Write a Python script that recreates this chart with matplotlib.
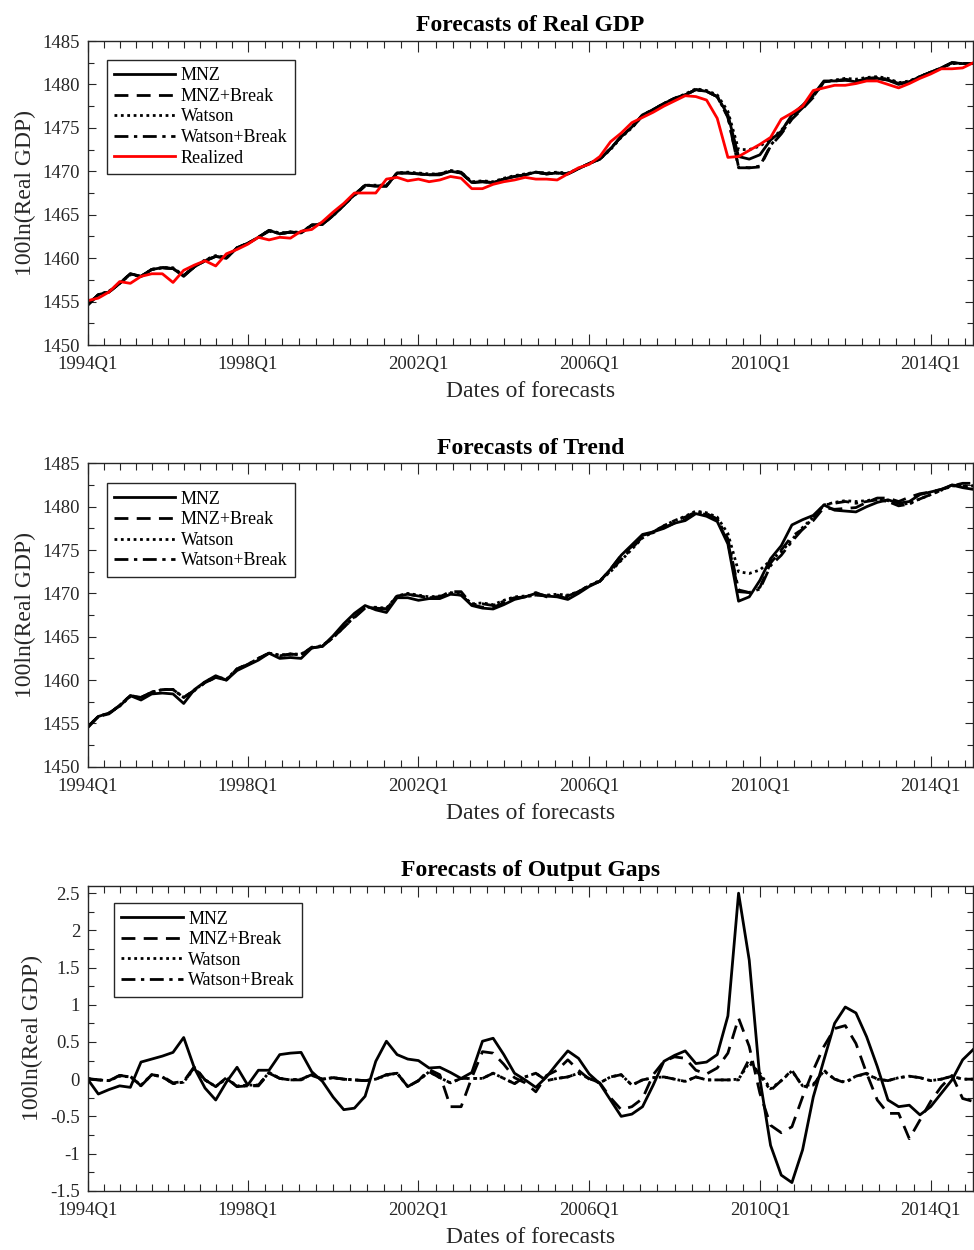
import numpy as np
import matplotlib
matplotlib.use('Agg')
import matplotlib.pyplot as plt
from matplotlib.ticker import FixedLocator, MultipleLocator, FormatStrFormatter

plt.rcParams['font.family'] = ['Liberation Serif', 'DejaVu Serif']
plt.rcParams['axes.unicode_minus'] = False

# eje x: trimestres 1..84 (1994Q1 .. 2014Q4)
xtick_labels = ['1994Q1', '1998Q1', '2002Q1', '2006Q1', '2010Q1', '2014Q1']
series_names = ['MNZ', 'MNZ+Break', 'Watson', 'Watson+Break']

# ---- painel 1: previsoes do PIB real ----
realized = [
    1455.1, 1455.4, 1456.1, 1457.3, 1457.1, 1457.9, 1458.2, 1458.2, 1457.2, 1458.6, 1459.2, 1459.7,
    1459.1, 1460.5, 1461.0, 1461.6, 1462.4, 1462.1, 1462.4, 1462.3, 1463.1, 1463.3, 1464.2, 1465.3,
    1466.3, 1467.5, 1467.5, 1467.5, 1469.1, 1469.3, 1468.9, 1469.1, 1468.8, 1469.0, 1469.4, 1469.2,
    1468.0, 1468.0, 1468.5, 1468.8, 1469.0, 1469.3, 1469.1, 1469.1, 1469.0, 1469.7, 1470.4, 1470.8,
    1471.7, 1473.4, 1474.4, 1475.6, 1476.2, 1476.8, 1477.5, 1478.1, 1478.7, 1478.6, 1478.2, 1476.1,
    1471.6, 1471.7, 1472.4, 1473.1, 1473.9, 1476.0, 1476.7, 1477.5, 1479.3, 1479.6, 1479.9, 1479.9,
    1480.1, 1480.4, 1480.4, 1480.0, 1479.6, 1480.1, 1480.7, 1481.2, 1481.8, 1481.8, 1481.9, 1482.5]

gdp_mnz = [
    1454.6, 1455.8, 1456.1, 1457.1, 1458.2, 1457.9, 1458.7, 1458.9, 1458.8, 1457.9, 1459.0, 1459.7,
    1460.2, 1460.0, 1461.2, 1461.7, 1462.4, 1463.2, 1462.8, 1463.0, 1462.9, 1463.8, 1463.9, 1464.9,
    1466.1, 1467.3, 1468.4, 1468.3, 1468.3, 1469.8, 1469.8, 1469.7, 1469.6, 1469.6, 1470.0, 1469.8,
    1468.7, 1468.8, 1468.7, 1469.1, 1469.4, 1469.6, 1469.9, 1469.7, 1469.8, 1469.7, 1470.3, 1470.9,
    1471.4, 1472.6, 1474.0, 1475.1, 1476.5, 1477.1, 1477.8, 1478.4, 1478.8, 1479.4, 1479.2, 1478.6,
    1476.5, 1471.7, 1471.4, 1471.9, 1473.6, 1474.6, 1476.5, 1477.6, 1478.8, 1480.4, 1480.4, 1480.5,
    1480.3, 1480.6, 1480.7, 1480.5, 1480.0, 1480.3, 1480.9, 1481.4, 1481.9, 1482.5, 1482.4, 1482.4]

gdp_mnz_break = [
    1454.6, 1455.8, 1456.1, 1457.1, 1458.2, 1457.9, 1458.7, 1458.9, 1458.8, 1458.0, 1459.0, 1459.7,
    1460.2, 1460.0, 1461.2, 1461.7, 1462.4, 1463.1, 1462.8, 1463.0, 1462.9, 1463.8, 1463.9, 1464.9,
    1466.1, 1467.2, 1468.3, 1468.3, 1468.3, 1469.8, 1469.8, 1469.7, 1469.6, 1469.7, 1470.0, 1469.9,
    1468.7, 1468.8, 1468.7, 1469.1, 1469.4, 1469.6, 1469.9, 1469.7, 1469.8, 1469.7, 1470.3, 1470.9,
    1471.4, 1472.6, 1474.0, 1475.0, 1476.4, 1477.1, 1477.8, 1478.4, 1478.8, 1479.4, 1479.2, 1478.6,
    1476.2, 1470.5, 1470.4, 1470.5, 1472.9, 1474.3, 1476.0, 1477.2, 1478.5, 1480.3, 1480.4, 1480.5,
    1480.4, 1480.6, 1480.7, 1480.5, 1480.1, 1480.3, 1480.9, 1481.4, 1481.9, 1482.5, 1482.4, 1482.4]

gdp_watson = [
    1454.7, 1455.8, 1456.2, 1457.1, 1458.1, 1457.9, 1458.7, 1458.9, 1458.9, 1458.0, 1459.0, 1459.8,
    1460.3, 1460.1, 1461.2, 1461.7, 1462.4, 1463.2, 1462.9, 1463.0, 1463.0, 1463.8, 1464.0, 1464.9,
    1466.1, 1467.3, 1468.4, 1468.4, 1468.4, 1469.8, 1469.9, 1469.8, 1469.7, 1469.7, 1470.1, 1469.9,
    1468.8, 1468.9, 1468.8, 1469.2, 1469.5, 1469.7, 1469.9, 1469.8, 1469.9, 1469.8, 1470.3, 1470.9,
    1471.4, 1472.5, 1473.9, 1475.0, 1476.4, 1477.1, 1477.8, 1478.4, 1478.9, 1479.5, 1479.3, 1478.8,
    1476.9, 1472.5, 1472.5, 1472.9, 1473.7, 1474.7, 1476.3, 1477.5, 1478.7, 1480.3, 1480.5, 1480.7,
    1480.6, 1480.8, 1480.9, 1480.7, 1480.2, 1480.4, 1480.9, 1481.4, 1481.9, 1482.4, 1482.4, 1482.4]

gdp_watson_break = [
    1454.6, 1455.8, 1456.1, 1457.1, 1458.2, 1457.9, 1458.7, 1458.9, 1458.8, 1458.0, 1459.0, 1459.7,
    1460.2, 1460.0, 1461.2, 1461.7, 1462.4, 1463.2, 1462.8, 1463.0, 1462.9, 1463.8, 1463.9, 1464.9,
    1466.1, 1467.3, 1468.4, 1468.3, 1468.3, 1469.8, 1469.8, 1469.7, 1469.6, 1469.6, 1470.0, 1469.8,
    1468.7, 1468.8, 1468.7, 1469.1, 1469.4, 1469.6, 1469.9, 1469.7, 1469.8, 1469.7, 1470.3, 1470.9,
    1471.4, 1472.6, 1474.0, 1475.1, 1476.5, 1477.1, 1477.8, 1478.4, 1478.8, 1479.4, 1479.2, 1478.6,
    1476.3, 1470.4, 1470.4, 1470.6, 1473.0, 1474.4, 1476.1, 1477.3, 1478.6, 1480.3, 1480.4, 1480.6,
    1480.4, 1480.7, 1480.8, 1480.6, 1480.1, 1480.3, 1480.9, 1481.4, 1481.9, 1482.5, 1482.4, 1482.4]

# ---- painel 2: previsoes da tendencia ----
trend_mnz = [
    1454.5, 1455.8, 1456.2, 1457.0, 1458.2, 1457.7, 1458.4, 1458.5, 1458.4, 1457.3, 1458.9, 1459.8,
    1460.5, 1460.0, 1461.1, 1461.7, 1462.3, 1463.1, 1462.5, 1462.6, 1462.5, 1463.7, 1463.9, 1465.1,
    1466.5, 1467.7, 1468.6, 1468.1, 1467.8, 1469.5, 1469.5, 1469.2, 1469.4, 1469.4, 1469.9, 1469.8,
    1468.6, 1468.3, 1468.2, 1468.7, 1469.3, 1469.6, 1470.0, 1469.7, 1469.6, 1469.3, 1470.0, 1470.8,
    1471.4, 1472.8, 1474.4, 1475.6, 1476.8, 1477.1, 1477.5, 1478.1, 1478.4, 1479.2, 1478.9, 1478.3,
    1475.7, 1469.1, 1469.6, 1471.5, 1474.0, 1475.5, 1477.9, 1478.5, 1479.0, 1480.2, 1479.6, 1479.5,
    1479.4, 1480.0, 1480.5, 1480.8, 1480.4, 1480.6, 1481.4, 1481.7, 1482.0, 1482.5, 1482.2, 1482.0]

trend_mnz_break = [
    1454.6, 1455.8, 1456.1, 1457.1, 1458.2, 1458.0, 1458.6, 1458.9, 1458.9, 1458.0, 1458.8, 1459.7,
    1460.3, 1460.0, 1461.3, 1461.8, 1462.5, 1463.1, 1462.8, 1463.0, 1462.9, 1463.8, 1463.9, 1464.9,
    1466.1, 1467.2, 1468.3, 1468.3, 1468.2, 1469.7, 1469.9, 1469.7, 1469.5, 1469.6, 1470.2, 1470.2,
    1468.7, 1468.4, 1468.4, 1468.9, 1469.4, 1469.6, 1470.1, 1469.6, 1469.7, 1469.4, 1470.2, 1470.9,
    1471.4, 1472.8, 1474.4, 1475.4, 1476.7, 1477.0, 1477.6, 1478.1, 1478.5, 1479.3, 1479.1, 1478.5,
    1475.9, 1470.2, 1470.1, 1470.7, 1473.5, 1475.0, 1476.6, 1477.4, 1478.4, 1479.9, 1479.7, 1479.8,
    1479.9, 1480.5, 1481.0, 1481.0, 1480.6, 1481.1, 1481.5, 1481.7, 1482.0, 1482.4, 1482.7, 1482.7]

trend_watson = [
    1454.6, 1455.8, 1456.2, 1457.0, 1458.1, 1458.0, 1458.6, 1458.9, 1458.9, 1458.0, 1458.8, 1459.8,
    1460.4, 1460.1, 1461.3, 1461.8, 1462.5, 1463.1, 1462.9, 1463.0, 1463.0, 1463.7, 1464.0, 1464.9,
    1466.1, 1467.3, 1468.4, 1468.4, 1468.3, 1469.7, 1470.0, 1469.8, 1469.6, 1469.7, 1470.1, 1469.9,
    1468.8, 1468.9, 1468.7, 1469.2, 1469.6, 1469.7, 1469.8, 1469.8, 1469.9, 1469.8, 1470.2, 1470.9,
    1471.5, 1472.5, 1473.8, 1475.1, 1476.4, 1477.1, 1477.8, 1478.4, 1478.9, 1479.5, 1479.3, 1478.8,
    1476.9, 1472.5, 1472.3, 1472.7, 1473.8, 1474.8, 1476.2, 1477.6, 1478.8, 1480.2, 1480.5, 1480.7,
    1480.6, 1480.7, 1480.9, 1480.7, 1480.2, 1480.4, 1480.9, 1481.4, 1481.9, 1482.4, 1482.4, 1482.4]

trend_watson_break = [
    1454.6, 1455.8, 1456.1, 1457.1, 1458.2, 1458.0, 1458.6, 1458.9, 1458.9, 1458.0, 1458.8, 1459.7,
    1460.3, 1460.0, 1461.3, 1461.8, 1462.5, 1463.1, 1462.8, 1463.0, 1462.9, 1463.7, 1463.9, 1464.9,
    1466.1, 1467.3, 1468.4, 1468.3, 1468.2, 1469.7, 1469.9, 1469.7, 1469.5, 1469.6, 1470.0, 1469.8,
    1468.7, 1468.8, 1468.6, 1469.1, 1469.5, 1469.6, 1469.8, 1469.7, 1469.8, 1469.7, 1470.2, 1470.9,
    1471.4, 1472.6, 1473.9, 1475.2, 1476.5, 1477.1, 1477.8, 1478.4, 1478.8, 1479.4, 1479.2, 1478.6,
    1476.3, 1470.4, 1470.1, 1470.5, 1473.2, 1474.4, 1476.0, 1477.4, 1478.7, 1480.2, 1480.4, 1480.6,
    1480.4, 1480.6, 1480.8, 1480.6, 1480.1, 1480.3, 1480.9, 1481.4, 1481.9, 1482.5, 1482.4, 1482.4]

# ---- painel 3: previsoes do hiato do produto ----
gap_mnz = [
    0.00, -0.20, -0.14, -0.09, -0.11, 0.23, 0.27, 0.31, 0.36, 0.56, 0.15, -0.12,
    -0.28, -0.04, 0.16, -0.08, 0.12, 0.12, 0.33, 0.35, 0.36, 0.10, -0.03, -0.24,
    -0.41, -0.39, -0.23, 0.24, 0.51, 0.33, 0.27, 0.25, 0.15, 0.16, 0.09, 0.01,
    0.09, 0.51, 0.55, 0.33, 0.08, -0.01, -0.11, 0.03, 0.21, 0.38, 0.28, 0.07,
    -0.06, -0.28, -0.50, -0.47, -0.37, -0.08, 0.24, 0.32, 0.38, 0.21, 0.23, 0.33,
    0.85, 2.50, 1.60, 0.00, -0.89, -1.29, -1.39, -0.95, -0.24, 0.26, 0.75, 0.97,
    0.89, 0.57, 0.17, -0.28, -0.37, -0.35, -0.48, -0.37, -0.19, -0.01, 0.26, 0.40]

gap_mnz_break = [
    0.00, -0.01, -0.02, 0.05, 0.04, -0.09, 0.06, 0.04, -0.05, -0.03, 0.17, -0.01,
    -0.10, 0.02, -0.10, -0.09, -0.09, 0.08, 0.01, -0.01, -0.01, 0.05, 0.00, 0.02,
    0.00, -0.01, -0.02, 0.00, 0.06, 0.08, -0.10, -0.02, 0.13, 0.06, -0.37, -0.37,
    0.02, 0.37, 0.35, 0.20, 0.02, -0.05, -0.17, 0.05, 0.12, 0.26, 0.12, 0.00,
    -0.05, -0.25, -0.41, -0.37, -0.26, 0.06, 0.24, 0.30, 0.28, 0.12, 0.07, 0.15,
    0.35, 0.82, 0.44, -0.19, -0.62, -0.72, -0.64, -0.24, 0.12, 0.44, 0.68, 0.72,
    0.48, 0.08, -0.28, -0.46, -0.46, -0.80, -0.55, -0.30, -0.10, 0.05, -0.26, -0.30]

gap_watson = [
    0.01, -0.01, -0.02, 0.04, 0.03, -0.08, 0.06, 0.03, -0.06, -0.04, 0.15, -0.01,
    -0.10, 0.01, -0.09, -0.08, -0.08, 0.09, 0.01, -0.01, 0.00, 0.06, 0.00, 0.02,
    0.00, -0.01, -0.02, 0.00, 0.05, 0.08, -0.10, -0.02, 0.10, 0.02, -0.05, 0.01,
    0.01, 0.01, 0.08, 0.01, -0.06, 0.03, 0.08, -0.02, 0.01, 0.03, 0.08, 0.01,
    -0.05, 0.03, 0.06, -0.08, -0.01, 0.02, 0.03, 0.00, -0.03, 0.03, -0.01, -0.01,
    -0.01, 0.00, 0.22, 0.08, -0.13, -0.02, 0.11, -0.09, -0.07, 0.11, 0.00, -0.04,
    0.04, 0.07, 0.00, -0.02, 0.02, 0.04, 0.02, -0.02, 0.00, 0.04, 0.00, 0.00]

gap_watson_break = [
    0.01, -0.01, -0.02, 0.05, 0.03, -0.09, 0.06, 0.03, -0.06, -0.04, 0.16, -0.01,
    -0.10, 0.01, -0.10, -0.09, -0.08, 0.09, 0.01, -0.01, 0.00, 0.06, 0.00, 0.02,
    0.00, -0.01, -0.02, 0.00, 0.06, 0.08, -0.10, -0.02, 0.10, 0.02, -0.05, 0.01,
    0.01, 0.01, 0.08, 0.01, -0.06, 0.03, 0.08, -0.02, 0.01, 0.03, 0.08, 0.01,
    -0.05, 0.03, 0.06, -0.08, -0.01, 0.02, 0.03, 0.00, -0.03, 0.03, -0.01, -0.01,
    -0.01, -0.01, 0.27, 0.05, -0.15, -0.02, 0.12, -0.10, -0.08, 0.12, 0.00, -0.05,
    0.04, 0.08, 0.00, -0.02, 0.02, 0.04, 0.02, -0.02, 0.00, 0.04, 0.00, 0.00]

q = np.arange(1, len(realized) + 1)

# estilos das linhas
estilos = ['-', (0, (5, 3)), (0, (1, 1.3)), (0, (5, 2, 1.2, 2))]
cinza = '#262626'
lw = 2.0


def formatar(ax, titulo, ylim, ymaj, ymin, fmt, ancora):
    ax.set_xlim(1, 84)
    ax.set_ylim(*ylim)
    maj = [1, 16, 32, 48, 64, 80]
    ax.xaxis.set_major_locator(FixedLocator(maj))
    ax.set_xticklabels(xtick_labels)
    menores = []
    for a, b in zip(maj[:-1], maj[1:]):
        menores += list(np.linspace(a, b, 11)[1:-1])
    menores += [81.6, 83.2]
    ax.xaxis.set_minor_locator(FixedLocator(menores))
    ax.yaxis.set_major_locator(MultipleLocator(ymaj))
    ax.yaxis.set_minor_locator(MultipleLocator(ymin))
    ax.yaxis.set_major_formatter(FormatStrFormatter(fmt))
    ax.tick_params(which='both', direction='in', top=True, right=True,
                   color=cinza, labelcolor=cinza, labelsize=13.5, width=0.8)
    ax.tick_params(axis='x', which='major', length=8, pad=8)
    ax.tick_params(axis='x', which='minor', length=5)
    ax.tick_params(axis='y', which='major', length=6, pad=5.5)
    ax.tick_params(axis='y', which='minor', length=4)
    for s in ax.spines.values():
        s.set_color(cinza)
        s.set_linewidth(1.0)
    ax.set_title(titulo, fontsize=17, fontweight='bold', pad=7)
    ax.set_xlabel('Dates of forecasts', fontsize=17, color=cinza, labelpad=6)
    ax.set_ylabel('100ln(Real GDP)', fontsize=17, color=cinza, labelpad=5)
    leg = ax.legend(loc='upper left', bbox_to_anchor=ancora, borderaxespad=0,
                    fontsize=13, fancybox=False, framealpha=1, edgecolor=cinza,
                    borderpad=0.4, labelspacing=0.2, handlelength=3.4,
                    handletextpad=0.3)
    leg.get_frame().set_linewidth(1.0)


fig = plt.figure(figsize=(9.74, 12.5), dpi=100)

ax1 = fig.add_axes([0.0900, 0.7240, 0.9093, 0.2432])
for serie, nome, ls in zip([gdp_mnz, gdp_mnz_break, gdp_watson, gdp_watson_break], series_names, estilos):
    ax1.plot(q, serie, color='black', linestyle=ls, linewidth=lw, label=nome)
ax1.plot(q, realized, color='#ff0000', linewidth=lw, label='Realized')
formatar(ax1, 'Forecasts of Real GDP', (1450, 1485), 5, 2.5, '%d', (0.0215, 0.9375))

ax2 = fig.add_axes([0.0900, 0.3866, 0.9093, 0.2427])
for serie, nome, ls in zip([trend_mnz, trend_mnz_break, trend_watson, trend_watson_break], series_names, estilos):
    ax2.plot(q, serie, color='black', linestyle=ls, linewidth=lw, label=nome)
formatar(ax2, 'Forecasts of Trend', (1450, 1485), 5, 2.5, '%d', (0.0215, 0.934))

ax3 = fig.add_axes([0.0900, 0.0474, 0.9093, 0.2440])
for serie, nome, ls in zip([gap_mnz, gap_mnz_break, gap_watson, gap_watson_break], series_names, estilos):
    ax3.plot(q, serie, color='black', linestyle=ls, linewidth=lw, label=nome)
formatar(ax3, 'Forecasts of Output Gaps', (-1.5, 2.6), 0.5, 0.25, '%g', (0.030, 0.9423))

plt.savefig('out.png', dpi=100)
